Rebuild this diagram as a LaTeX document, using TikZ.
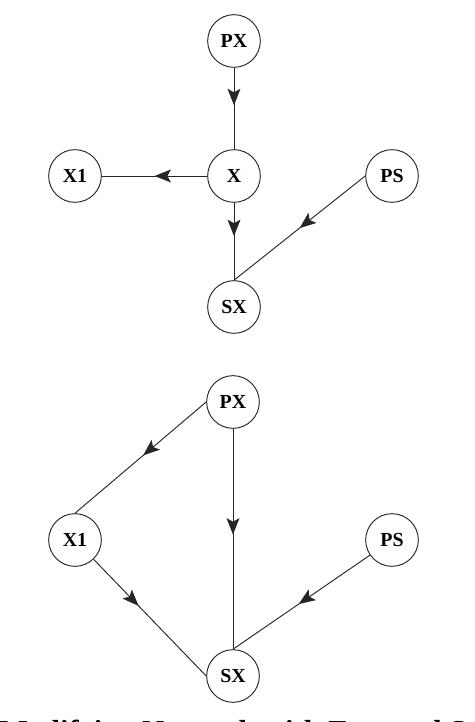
\documentclass[tikz,border=0pt]{standalone}
\usepackage{fontspec}
\setmainfont{Liberation Serif}
\usetikzlibrary{arrows.meta, decorations.markings}
\tikzstyle{state} = [circle, draw=black!85, thick, minimum size=1.58cm,
           inner sep=0pt, font=\fontsize{17}{20}\selectfont\bfseries]
\tikzset{arrow/.style={thick, draw=black!85, postaction={decorate},
           decoration={markings, mark=at position #1 with
           {\arrow{Stealth[length=14pt,width=11pt,inset=3pt]}}}},
         arrow/.default=0.45}

\begin{document}
\begin{tikzpicture}
\useasboundingbox (-7.02,5.28) rectangle (7.2,-16.38);
% first network
\node (x) [state] at (0,0) {X};
\node (px) [state, node distance=4.05cm, above of=x] {PX};
\node (xone) [state, node distance=4.77cm, left of=x] {X1};
\node (ps) [state, node distance=4.74cm, right of=x] {PS};
\node (sx) [state, node distance=3.93cm, below of=x] {SX};
% modified network
\node (pxb) [state, node distance=2.85cm, below of=sx, xshift=-0.03cm] {PX};
\node (xoneb) [state, node distance=4.74cm, left of=pxb, yshift=-4.14cm] {X1};
\node (psb) [state, node distance=4.77cm, right of=pxb, yshift=-4.14cm] {PS};
\node (sxb) [state, node distance=8.22cm, below of=pxb] {SX};
\node (caption) [anchor=north west, inner sep=0pt,
   font=\fontsize{26}{30}\selectfont\bfseries] at (-7.05,-16.32)
   {Modifying Network with External S};
\draw [arrow=0.46] (px) -- (x);
\draw [arrow=0.5] (x) -- (xone);
\draw [arrow=0.43] (x) -- (sx);
\draw [arrow=0.5] (ps.west) -- (sx.north);
\draw [arrow=0.48] (pxb.west) -- (xoneb.north);
\draw [arrow=0.48] (pxb) -- (sxb);
\draw [arrow=0.4] (xoneb) -- (sxb.west);
\draw [arrow=0.52] (psb) -- (sxb.north);
\end{tikzpicture}
\end{document}
